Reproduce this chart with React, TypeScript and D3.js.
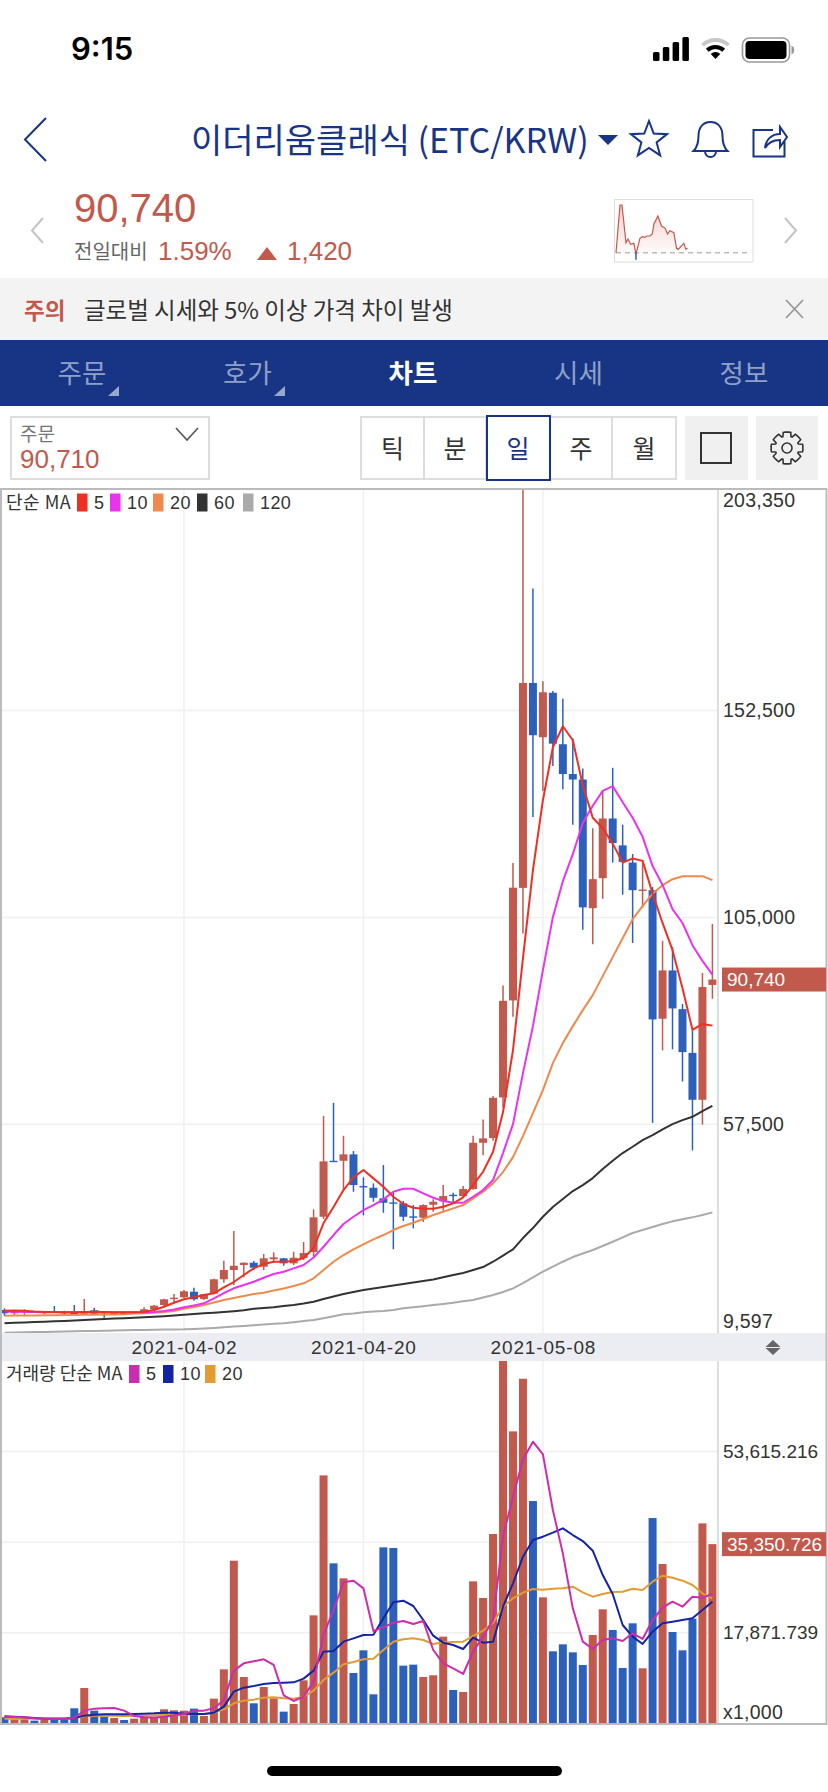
import { useRef, useEffect } from "react";
import * as d3 from "d3";

const WIDTH = 828;
const HEIGHT = 1792;
const KR = '"Noto Sans CJK KR", "Noto Sans", sans-serif';
const LATIN = '"Liberation Sans", Arial, sans-serif';
const RED = "#c1594c";
const BLUE = "#2c60bb";
const NAVY = "#183585";

// daily candles, 2021-03-15 to 2021-05-25
const days = d3.utcDay.range(new Date(Date.UTC(2021, 2, 15)), new Date(Date.UTC(2021, 4, 26)));
const dateTicks = ["2021-04-02", "2021-04-20", "2021-05-08"];

const opens = [
  14875, 14118, 14416, 14577, 14186, 14577, 14485, 14255, 14026, 14806,
  14026, 13796, 14255, 14026, 14118, 15035, 16022, 17468, 17789, 19074,
  17399, 18615, 21920, 24054, 25201, 25729, 24811, 26509, 26738, 25591,
  26807, 28184, 36284, 49134, 49134, 50603, 43329, 42939, 40506, 39588,
  39359, 36376, 36054, 39038, 39818, 41332, 41034, 42641, 53265, 54344,
  63682, 85942, 111780, 158820, 146361, 156572, 144755, 137917, 136655, 107122,
  114006, 127705, 121534, 117585, 111091, 111252, 81742, 92825, 83945, 73894,
  63132, 89500,
];
const highs = [
  15265, 14650, 15035, 14620, 14485, 15793, 14714, 16022, 17399, 15403,
  14577, 14485, 14347, 14416, 15494, 16022, 17468, 18546, 19464, 19992,
  18550, 22058, 26187, 33003, 25800, 26119, 27725, 28115, 26830, 28253,
  30479, 37982, 59392, 62443, 54871, 51360, 45325, 43948, 48148, 41883,
  39887, 38969, 39128, 40277, 43559, 41791, 43329, 54871, 58635, 63982,
  89385, 117516, 203350, 180482, 159212, 156985, 155172, 146063, 139179, 125479,
  134037, 139340, 126284, 119558, 117585, 111965, 99618, 98195, 85138, 79126,
  92252, 103497,
];
const lows = [
  13498, 13498, 13590, 14300, 13957, 14255, 13957, 13888, 14026, 13727,
  13108, 13659, 13957, 14026, 14118, 14714, 15793, 16711, 17560, 17009,
  17170, 18477, 21139, 20612, 22378, 24054, 24054, 25729, 25040, 25201,
  26348, 27198, 35757, 48836, 42411, 42021, 36605, 39726, 37202, 28804,
  35298, 33622, 35068, 37432, 37661, 39199, 40804, 42500, 50374, 53725,
  61389, 82179, 101316, 128073, 134037, 139751, 134429, 126284, 102142, 98861,
  109279, 117585, 110219, 99137, 107305, 57831, 74467, 74698, 67332, 51521,
  57440, 86330,
];
const closes = [
  14118, 14577, 14806, 14347, 14485, 14255, 14118, 13888, 14645, 14026,
  13888, 14255, 14026, 14416, 15035, 15862, 17330, 17697, 19166, 17330,
  18477, 21920, 24054, 25040, 25729, 24581, 26738, 26968, 25591, 26876,
  27955, 36146, 48997, 48836, 50603, 43559, 43031, 40644, 39496, 39267,
  36284, 36146, 38969, 39726, 41034, 41034, 42641, 53265, 54275, 63591,
  85850, 111825, 158820, 146820, 156687, 144891, 137917, 136655, 107305, 113776,
  127705, 122085, 117745, 111252, 111412, 81583, 92825, 84105, 74078, 63132,
  89018, 90740,
];

const ma5 = [
  14714, 14760, 14714, 14530, 14416, 14416, 14370, 14347, 14416, 14462,
  14416, 14347, 14347, 14347, 14416, 14875, 15632, 16550, 17330, 17789,
  18317, 18707, 20084, 21300, 22906, 24444, 25430, 25958, 25958, 26119,
  26807, 29102, 34839, 38510, 42411, 45325, 47001, 45096, 43168, 40874,
  39199, 38349, 38120, 38120, 38578, 39359, 40736, 43559, 46611, 51199,
  60310, 74537, 95648, 115842, 131905, 144067, 148886, 145673, 135347, 127867,
  125479, 121945, 117585, 118526, 117976, 110472, 103726, 97484, 88764, 79195,
  80547, 80159,
];
const ma10 = [
  14530, 14485, 14416, 14416, 14370, 14347, 14347, 14347, 14347, 14370,
  14370, 14347, 14347, 14347, 14347, 14416, 14645, 14990, 15494, 15907,
  16412, 17560, 18776, 19854, 20612, 21369, 22287, 23136, 23664, 24444,
  25201, 26922, 29400, 32085, 34609, 36284, 37822, 38969, 40277, 42021,
  42710, 42710, 41654, 40644, 39887, 39497, 39497, 40874, 42411, 44706,
  50902, 57556, 69259, 80044, 92894, 105057, 113317, 119513, 126673, 130643,
  134037, 135137, 131446, 127867, 123505, 116783, 112446, 106892, 103726, 98631,
  95028, 91862,
];
const ma20 = [
  13567, 13590, 13613, 13636, 13659, 13682, 13727, 13750, 13773, 13796,
  13842, 13865, 13911, 14072, 14118, 14255, 14416, 14645, 15173, 15563,
  16022, 16596, 17170, 17628, 18087, 18546, 18845, 19349, 19808, 20382,
  20999, 22149, 24054, 25958, 27496, 28804, 29951, 31098, 32085, 33233,
  34150, 34907, 35757, 36674, 37432, 38212, 38969, 40506, 42021, 43948,
  46542, 49984, 54803, 60080, 65359, 71554, 76143, 80044, 83716, 87158,
  91518, 95878, 100238, 104598, 107580, 110449, 112400, 113776, 114465, 114465,
  114465, 113547,
];
const ma60 = [
  11823, 11938, 12006, 12121, 12190, 12282, 12351, 12465, 12580, 12695,
  12810, 12901, 12993, 13085, 13200, 13314, 13452, 13613, 13796, 13957,
  14118, 14255, 14416, 14600, 14806, 15150, 15334, 15517, 15793, 16022,
  16366, 16779, 17399, 17973, 18546, 19005, 19464, 19808, 20153, 20497,
  20841, 21185, 21529, 21873, 22378, 22906, 23365, 24054, 24742, 25958,
  27381, 28804, 31397, 33691, 36284, 38510, 40346, 42182, 43559, 45165,
  47230, 49134, 50902, 52347, 53885, 55032, 56339, 57556, 58474, 59231,
  60540, 61756,
];
const ma120 = [
  9666, 9712, 9758, 9804, 9849, 9895, 9941, 9987, 10033, 10079,
  10125, 10171, 10217, 10262, 10308, 10354, 10377, 10423, 10446, 10538,
  10630, 10745, 10905, 11066, 11226, 11387, 11548, 11708, 11846, 12075,
  12351, 12580, 12993, 13452, 13888, 14049, 14347, 14508, 14645, 14875,
  15265, 15494, 15747, 15999, 16252, 16550, 16871, 17170, 17743, 18317,
  19005, 19854, 21071, 22378, 23664, 24811, 25958, 27037, 27840, 28643,
  29561, 30547, 31557, 32544, 33233, 33921, 34609, 35229, 35688, 36146,
  36674, 37294,
];

const volumes = [
  1184, 789, 789, 526, 657, 789, 657, 2959, 6970, 2499,
  1315, 1052, 657, 920, 1315, 1315, 2762, 2564, 2499, 2893,
  1447, 4866, 10652, 32086, 9139, 3945, 7167, 4931, 2301, 3814,
  8482, 21303, 48918, 31560, 28601, 9928, 14399, 5720, 34716, 34585,
  11375, 11572, 9139, 9468, 17095, 6575, 6181, 28010, 24722, 37346,
  72000, 57597, 67986, 43855, 24854, 14202, 15583, 14005, 11506, 17424,
  22487, 18410, 10915, 19725, 10849, 40502, 31429, 18016, 14399, 20646,
  39450, 35350.726,
];
const volMa5 = [
  1249, 1249, 1184, 986, 921, 855, 855, 1052, 2499, 2893,
  2959, 3025, 2499, 1447, 1184, 1118, 1315, 1578, 1841, 2499,
  2499, 2959, 4603, 10389, 11835, 12230, 12624, 11506, 5523, 4405,
  5260, 8219, 17424, 22355, 27812, 28141, 26629, 18213, 18936, 19857,
  20185, 19594, 20185, 14465, 11835, 10849, 9731, 14136, 17095, 20383,
  36820, 44710, 52074, 55559, 53060, 42080, 33533, 22684, 16109, 14662,
  16438, 16766, 16240, 17753, 16635, 20383, 22815, 23999, 23013, 24985,
  24788, 25511,
];
const volMa10 = [
  1381, 1315, 1184, 1052, 921, 921, 921, 1052, 1512, 1710,
  1775, 1775, 1775, 1841, 1907, 1973, 2104, 2104, 1907, 1841,
  1841, 2104, 3288, 6246, 7035, 7364, 7759, 7956, 8022, 8087,
  8811, 10389, 14136, 14268, 16109, 16766, 17424, 17490, 20711, 23867,
  24196, 23144, 20383, 17292, 15912, 15451, 14662, 16898, 15912, 16109,
  23013, 27615, 32875, 36163, 36820, 37609, 38464, 37149, 35965, 34059,
  29259, 25511, 19396, 17095, 15649, 18081, 19725, 20054, 20383, 20711,
  22355, 23999,
];
const volMa20 = [
  921, 921, 921, 921, 986, 986, 986, 1052, 1381, 1512,
  1512, 1512, 1447, 1447, 1512, 1578, 1644, 1644, 1710, 1775,
  1841, 2104, 2762, 3945, 4471, 4668, 5063, 5129, 4931, 4866,
  5260, 6444, 8548, 9994, 11638, 12098, 12624, 12756, 14465, 16109,
  16569, 16766, 16438, 15649, 15977, 16043, 16109, 17227, 18279, 19857,
  23013, 24656, 25774, 26497, 26366, 26563, 26629, 26958, 25840, 24985,
  25511, 25906, 25971, 26563, 26300, 27944, 29127, 28733, 28141, 27286,
  25643, 24591,
];

const priceTicks = [152500, 105000, 57500];
const priceMin = 9597;
const priceMax = 203350;
const volTicks = [53615.216, 35743.477, 17871.739];
const volMax = 71487;

const priceLegend = [
  { label: "5", color: "#ee3024", values: ma5 },
  { label: "10", color: "#e833ef", values: ma10 },
  { label: "20", color: "#ef894d", values: ma20 },
  { label: "60", color: "#333333", values: ma60 },
  { label: "120", color: "#aaaaaa", values: ma120 },
];
const volLegend = [
  { label: "5", color: "#cc2cae", values: volMa5 },
  { label: "10", color: "#1425a3", values: volMa10 },
  { label: "20", color: "#e19c33", values: volMa20 },
];

// small price sparkline in the header, minutes and % of the day's range
const sparkMinutes = [0, 12, 18, 30, 36, 44, 54, 60, 72, 80, 87, 92, 102, 109, 114, 126, 137, 148, 155, 162, 174, 182, 187, 204, 210, 215];
const sparkValues = [0, 143, 143, 30, 41, 25, 28, -4, 43, 48, 46, 50, 50, 56, 86, 110, 80, 73, 56, 66, 60, 13, 10, 28, 10, 14];

const navItems = ["주문", "호가", "차트", "시세", "정보"];
const periods = ["틱", "분", "일", "주", "월"];

const dayLabel = d3.utcFormat("%Y-%m-%d");
const num = d3.format(",");
const num3 = d3.format(",.3f");

const star = () => {
  const pts: [number, number][] = d3.range(10).map((i) => [(i * Math.PI) / 5, i % 2 ? 8 : 19]);
  return d3.lineRadial().curve(d3.curveLinearClosed)(pts) as string;
};

const gear = () => {
  const pts: [number, number][] = [];
  d3.range(8).forEach((i) => {
    const a = (i * Math.PI) / 4;
    pts.push([a - 0.24, 16], [a - 0.13, 16], [a + 0.13, 16], [a + 0.24, 16], [a + 0.34, 12], [a + 0.44, 12]);
  });
  return d3.lineRadial().curve(d3.curveLinearClosed)(pts) as string;
};

const wifiArc = d3.arc();

export default function App() {
  const chartRef = useRef<SVGGElement>(null);

  useEffect(() => {
    const g = d3.select(chartRef.current);
    g.selectAll("*").remove();

    const x = d3
      .scalePoint<Date>()
      .domain(days)
      .range([4.5, 712.4]);
    const y = d3.scaleLinear().domain([priceMin, priceMax]).range([1333, 489]);
    const yv = d3.scaleLinear().domain([0, volMax]).range([1723.3, 1361]);

    const defs = g.append("defs");
    defs.append("clipPath").attr("id", "priceClip").append("rect")
      .attr("x", 2).attr("y", 489).attr("width", 716).attr("height", 844);
    defs.append("clipPath").attr("id", "volClip").append("rect")
      .attr("x", 2).attr("y", 1361).attr("width", 716).attr("height", 362.5);

    // date band
    g.append("rect").attr("x", 2).attr("y", 1333).attr("width", 824).attr("height", 28).attr("fill", "#ecedf2");

    const tickDays = days.filter((d) => dateTicks.includes(dayLabel(d)));

    // gridlines
    const grid = g.append("g").attr("stroke", "#f0f0f0").attr("stroke-width", 1.5);
    grid.selectAll("line.h").data(priceTicks).enter().append("line")
      .attr("x1", 2).attr("x2", 718).attr("y1", (d) => y(d)).attr("y2", (d) => y(d));
    grid.selectAll("line.hv").data(volTicks).enter().append("line")
      .attr("x1", 2).attr("x2", 718).attr("y1", (d) => yv(d)).attr("y2", (d) => yv(d));
    grid.selectAll("line.p").data(tickDays).enter().append("line")
      .attr("x1", (d) => x(d)).attr("x2", (d) => x(d)).attr("y1", 489).attr("y2", 1333);
    grid.selectAll("line.v").data(tickDays).enter().append("line")
      .attr("x1", (d) => x(d)).attr("x2", (d) => x(d)).attr("y1", 1361).attr("y2", 1723);

    // candles
    const candles = g.append("g").attr("clip-path", "url(#priceClip)");
    const idx = d3.range(days.length);
    candles.selectAll("line").data(idx).enter().append("line")
      .attr("x1", (i) => x(days[i])).attr("x2", (i) => x(days[i]))
      .attr("y1", (i) => y(highs[i])).attr("y2", (i) => y(lows[i]))
      .attr("stroke", (i) => (closes[i] >= opens[i] ? RED : BLUE))
      .attr("stroke-width", 1.5);
    candles.selectAll("rect").data(idx).enter().append("rect")
      .attr("x", (i) => x(days[i]) - 4)
      .attr("width", 8)
      .attr("y", (i) => y(Math.max(opens[i], closes[i])))
      .attr("height", (i) => Math.max(1.4, Math.abs(y(opens[i]) - y(closes[i]))))
      .attr("fill", (i) => (closes[i] >= opens[i] ? RED : BLUE));

    const priceLine = d3.line<number>().x((_, i) => x(days[i])).y((d) => y(d));
    candles.selectAll("path").data([...priceLegend].reverse()).enter().append("path")
      .attr("d", (d) => priceLine(d.values))
      .attr("fill", "none").attr("stroke", (d) => d.color).attr("stroke-width", 2)
      .attr("stroke-linejoin", "round");

    // volume bars
    const vols = g.append("g").attr("clip-path", "url(#volClip)");
    vols.selectAll("rect").data(idx).enter().append("rect")
      .attr("x", (i) => x(days[i]) - 4)
      .attr("width", 8)
      .attr("y", (i) => yv(volumes[i]))
      .attr("height", (i) => yv(0) - yv(volumes[i]))
      .attr("fill", (i) => (closes[i] >= opens[i] ? RED : BLUE));
    const volLine = d3.line<number>().x((_, i) => x(days[i])).y((d) => yv(d));
    vols.selectAll("path").data([...volLegend].reverse()).enter().append("path")
      .attr("d", (d) => volLine(d.values))
      .attr("fill", "none").attr("stroke", (d) => d.color).attr("stroke-width", 2)
      .attr("stroke-linejoin", "round");

    // axis column and outer frame
    g.append("line").attr("x1", 718).attr("x2", 718).attr("y1", 489).attr("y2", 1333)
      .attr("stroke", "#dddddd").attr("stroke-width", 2);
    g.append("line").attr("x1", 718).attr("x2", 718).attr("y1", 1361).attr("y2", 1723)
      .attr("stroke", "#dddddd").attr("stroke-width", 2);
    g.append("rect").attr("x", 1).attr("y", 489).attr("width", 825.5).attr("height", 1235)
      .attr("fill", "none").attr("stroke", "#bbbbbb").attr("stroke-width", 2);

    // date axis
    const dateAxis = d3.axisBottom(x).tickValues(tickDays).tickSize(0).tickFormat((d) => dayLabel(d as Date));
    const dateG = g.append("g").attr("transform", "translate(0,1340)").call(dateAxis);
    dateG.select(".domain").remove();
    dateG.selectAll("text")
      .attr("font-family", LATIN).attr("font-size", 19).attr("letter-spacing", 0.85)
      .attr("fill", "#333333").attr("dy", 0).attr("y", 14);

    // right axes
    const priceAxis = d3.axisRight(y).tickValues(priceTicks).tickSize(0).tickPadding(5).tickFormat((d) => num(d as number));
    const priceG = g.append("g").attr("transform", "translate(718,0)").call(priceAxis);
    priceG.select(".domain").remove();
    priceG.selectAll("text").attr("font-family", LATIN).attr("font-size", 19.5).attr("letter-spacing", 0.25).attr("fill", "#333333");
    const volAxis = d3.axisRight(yv).tickValues([volTicks[0], volTicks[2]]).tickSize(0).tickPadding(5).tickFormat((d) => num3(d as number));
    const volG = g.append("g").attr("transform", "translate(718,0)").call(volAxis);
    volG.select(".domain").remove();
    volG.selectAll("text").attr("font-family", LATIN).attr("font-size", 19).attr("fill", "#333333");

    const edgeLabels = [
      { text: num(priceMax), at: 500 },
      { text: num(priceMin), at: 1321 },
      { text: "x1,000", at: 1712 },
    ];
    g.selectAll("text.edge").data(edgeLabels).enter().append("text")
      .attr("class", "edge").attr("x", 723).attr("y", (d) => d.at).attr("dy", "0.35em")
      .attr("font-family", LATIN).attr("font-size", 19.5).attr("letter-spacing", 0.25).attr("fill", "#333333")
      .text((d) => d.text);

    // last value tags
    const tags = [
      { text: num(closes[closes.length - 1]), at: y(closes[closes.length - 1]), tx: 727 },
      { text: num3(volumes[volumes.length - 1]), at: yv(volumes[volumes.length - 1]), tx: 727 },
    ];
    g.selectAll("rect.tag").data(tags).enter().append("rect")
      .attr("class", "tag").attr("x", 722).attr("width", 104).attr("y", (d) => d.at - 12).attr("height", 24)
      .attr("fill", RED);
    g.selectAll("text.tag").data(tags).enter().append("text")
      .attr("class", "tag").attr("x", (d) => d.tx).attr("y", (d) => d.at).attr("dy", "0.35em")
      .attr("font-family", LATIN).attr("font-size", 19).attr("fill", "#ffffff")
      .text((d) => d.text);

    // resize arrows on the band
    g.append("path").attr("d", "M773 1340l7.5 7h-15zM773 1355l7.5 -7h-15z").attr("fill", "#666666");

    // legends
    const legend = (title: string, items: typeof priceLegend, cy: number, startX: number, gaps: number[], spacing: number) => {
      const lg = g.append("g").attr("font-size", 18).attr("fill", "#333333");
      lg.append("text").attr("x", 6).attr("y", cy).attr("dy", "0.35em").attr("font-family", KR).attr("letter-spacing", spacing).text(title);
      let cx = startX;
      items.forEach((it, i) => {
        lg.append("rect").attr("x", cx).attr("y", cy - 9).attr("width", 10.5).attr("height", 18).attr("fill", it.color);
        lg.append("text").attr("x", cx + 17).attr("y", cy).attr("dy", "0.35em").attr("font-family", LATIN).attr("letter-spacing", 0.4).text(it.label);
        cx += gaps[i];
      });
    };
    legend("단순 MA", priceLegend, 502.5, 77, [33, 43, 44, 46, 0], 0.5);
    legend("거래량 단순 MA", volLegend, 1374, 129, [34, 42, 0], 0);

    // header sparkline
    const sx = d3.scaleLinear().domain([0, 397]).range([616, 748]);
    const sy = d3.scaleLinear().domain([0, 143]).range([252.7, 205]);
    const sparkPts = sparkValues.map((v, i) => ({ t: sparkMinutes[i], v }));
    const grad = defs.append("linearGradient").attr("id", "sparkFill").attr("x1", 0).attr("y1", 0).attr("x2", 0).attr("y2", 1);
    grad.append("stop").attr("offset", "0%").attr("stop-color", "#e8a8a0").attr("stop-opacity", 0.55);
    grad.append("stop").attr("offset", "100%").attr("stop-color", "#e8a8a0").attr("stop-opacity", 0.05);
    const sArea = d3.area<{ t: number; v: number }>().x((d) => sx(d.t)).y0(sy(0)).y1((d) => sy(Math.max(0, d.v)));
    const sLine = d3.line<{ t: number; v: number }>().x((d) => sx(d.t)).y((d) => sy(d.v));
    g.append("rect").attr("x", 614.5).attr("y", 199.5).attr("width", 138.5).attr("height", 62.5)
      .attr("fill", "#ffffff").attr("stroke", "#dddddd").attr("stroke-width", 1);
    g.append("path").attr("d", sArea(sparkPts)).attr("fill", "url(#sparkFill)");
    g.append("line").attr("x1", sx(0)).attr("x2", sx(397)).attr("y1", sy(0)).attr("y2", sy(0))
      .attr("stroke", "#bbbbbb").attr("stroke-width", 1.5).attr("stroke-dasharray", "5 4");
    g.append("path").attr("d", sLine(sparkPts)).attr("fill", "none").attr("stroke", RED).attr("stroke-width", 1.2);
    g.append("line").attr("x1", sx(60)).attr("x2", sx(60)).attr("y1", sy(0)).attr("y2", sy(0) + 7)
      .attr("stroke", BLUE).attr("stroke-width", 1.5);
  }, []);

  const cellEdges = [361, 424, 486, 550, 612, 676];

  return (
    <svg
      width={WIDTH}
      height={HEIGHT}
      viewBox={`0 0 ${WIDTH} ${HEIGHT}`}
      style={{ position: "absolute", left: 0, top: 0, background: "#ffffff" }}
    >
      {/* status bar */}
      <text x={71} y={60} fontFamily='"Inter", sans-serif' fontWeight={600} fontSize={31} fill="#000">9:15</text>
      {[0, 1, 2, 3].map((i) => (
        <rect key={i} x={653 + i * 9.8} y={52 - i * 5} width={6.5} height={9 + i * 5} rx={1.5} fill="#000" />
      ))}
      <g transform="translate(715.5,59)">
        <path d={wifiArc({ innerRadius: 0, outerRadius: 7, startAngle: -0.75, endAngle: 0.75 }) as string} fill="#000" />
        <path d={wifiArc({ innerRadius: 10, outerRadius: 14, startAngle: -0.75, endAngle: 0.75 }) as string} fill="#000" />
        <path d={wifiArc({ innerRadius: 17, outerRadius: 21, startAngle: -0.75, endAngle: 0.75 }) as string} fill="#c8c8c8" />
      </g>
      <rect x={742.5} y={38} width={47} height={24} rx={7} fill="none" stroke="#999" strokeWidth={1.6} />
      <rect x={745.5} y={41} width={41} height={18} rx={4} fill="#000" />
      <path d="M791.5 45.5a5 5 0 0 1 0 9z" fill="#999" />

      {/* title row */}
      <path d="M46 118L25 139.5L46 161" fill="none" stroke={NAVY} strokeWidth={2} />
      <text x={191} y={153} fontFamily={KR} fontSize={34} fill={NAVY}>이더리움클래식 (ETC/KRW)</text>
      <path d="M598 135h20l-10 10z" fill={NAVY} />
      <path d={star()} transform="translate(649,140)" fill="none" stroke={NAVY} strokeWidth={2} />
      <path
        d="M710.5 122c-8 0-12 6-12 14c0 7-1 11-5 15h34c-4-4-5-8-5-15c0-8-4-14-12-14zM705 151c0 8 11 8 11 0"
        fill="none"
        stroke={NAVY}
        strokeWidth={2}
      />
      <path
        d="M773 130h-19.500v26.500h31v-15M765 148c1-9 7-14 15-14v-7l7 10l-7 10v-7c-6 0-12 3-15 8z"
        fill="none"
        stroke={NAVY}
        strokeWidth={2}
      />

      {/* price row */}
      <path d="M43 218L32 230.500L43 243" fill="none" stroke="#c4c4c4" strokeWidth={2} />
      <path d="M785 218L796 230.500L785 243" fill="none" stroke="#c4c4c4" strokeWidth={2} />
      <text x={74} y={222} fontFamily={LATIN} fontSize={40} fill={RED}>90,740</text>
      <text x={74} y={259} fontFamily={KR} fontSize={20} fill="#666">전일대비</text>
      <text x={158} y={260} fontFamily={LATIN} fontSize={26} fill={RED}>1.59%</text>
      <path d="M267 247l10 13h-20z" fill={RED} />
      <text x={287} y={260} fontFamily={LATIN} fontSize={26} fill={RED}>1,420</text>

      {/* alert */}
      <rect x={0} y={278} width={WIDTH} height={62} fill="#f3f3f3" />
      <text x={24} y={319} fontFamily={KR} fontWeight={700} fontSize={22.500} fill={RED}>주의</text>
      <text x={84} y={319} fontFamily={KR} fontSize={23.500} fill="#333">글로벌 시세와 5% 이상 가격 차이 발생</text>
      <path d="M786 300L803 318M803 300L786 318" stroke="#999" strokeWidth={1.8} />

      {/* nav */}
      <rect x={0} y={340} width={WIDTH} height={66} fill={NAVY} />
      {navItems.map((t, i) => (
        <text
          key={t}
          x={82 + i * 165.500}
          y={383}
          textAnchor="middle"
          fontFamily={KR}
          fontSize={26.500}
          fontWeight={t === "차트" ? 700 : 400}
          fill={t === "차트" ? "#ffffff" : "#8fa0c8"}
        >
          {t}
        </text>
      ))}
      <path d="M119 386v10h-11zM285 386v10h-11z" fill="#9aa8cc" />

      {/* order box */}
      <rect x={11} y={417} width={198} height={62} fill="#fff" stroke="#dddddd" strokeWidth={2} />
      <text x={20} y={441} fontFamily={KR} fontSize={19} fill="#777">주문</text>
      <text x={20} y={468} fontFamily={LATIN} fontSize={26} fill={RED}>90,710</text>
      <path d="M176 428L187 440L198 428" fill="none" stroke="#555" strokeWidth={1.6} />

      {/* period switch */}
      <rect x={361} y={417} width={315} height={62} fill="#fff" stroke="#dddddd" strokeWidth={2} />
      {cellEdges.slice(1, 5).map((e) => (
        <line key={e} x1={e} x2={e} y1={417} y2={479} stroke="#dddddd" strokeWidth={2} />
      ))}
      <rect x={487} y={416} width={63} height={64} fill="#fff" stroke={NAVY} strokeWidth={2} />
      {periods.map((t, i) => (
        <text
          key={t}
          x={(cellEdges[i] + cellEdges[i + 1]) / 2}
          y={458}
          textAnchor="middle"
          fontFamily={KR}
          fontSize={25}
          fill={t === "일" ? NAVY : "#333"}
        >
          {t}
        </text>
      ))}
      <rect x={685} y={416} width={63} height={64} fill="#f0f0f0" />
      <rect x={701} y={433} width={30} height={30} fill="none" stroke="#333" strokeWidth={2} />
      <rect x={756} y={416} width={62} height={64} fill="#f0f0f0" />
      <g transform="translate(787,448)" fill="none" stroke="#333" strokeWidth={1.6}>
        <path d={gear()} />
        <circle r={5} />
      </g>

      <g ref={chartRef} />

      {/* home indicator */}
      <rect x={267} y={1766} width={295} height={10} rx={5} fill="#000" />
    </svg>
  );
}
